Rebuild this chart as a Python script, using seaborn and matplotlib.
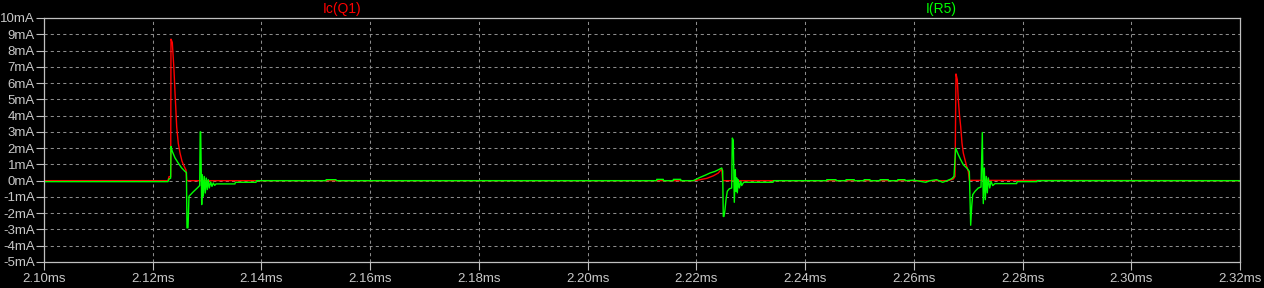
import matplotlib
matplotlib.use("Agg")
import numpy as np
import pandas as pd
import seaborn as sns
import matplotlib.pyplot as plt

# ---------------- data (time in ms, current in mA) ----------------
# Ic(Q1)
ic_t_ev1 = [2.1000, 2.1228, 2.1230, 2.1233, 2.12336, 2.1236, 2.12391, 2.1241, 2.12428,
            2.12441, 2.1247, 2.12502, 2.12538, 2.12575, 2.12612, 2.12625, 2.1263, 2.1315]
ic_v_ev1 = [0.0, 0.0, 0.25, 0.25, 8.7, 8.5, 6.8, 5.4, 4.2,
            3.3, 2.3, 1.7, 1.2, 0.9, 0.65, 0.0, 0.0, 0.0]
ic_t_ev2 = [2.21944, 2.22067, 2.2219, 2.22313, 2.22404, 2.22466, 2.22484]
ic_v_ev2 = [0.0, 0.06, 0.14, 0.3, 0.47, 0.72, 0.0]
ic_t_ev3 = [2.26629, 2.26726, 2.26758, 2.26776, 2.268, 2.26818, 2.26837, 2.26862,
            2.26886, 2.2691, 2.26941, 2.26973, 2.27002, 2.27021, 2.32]
ic_v_ev3 = [0.0, 0.1, 0.26, 6.56, 6.2, 5.0, 4.15, 3.33,
            2.31, 1.7, 1.29, 0.88, 0.57, 0.02, 0.0]

# I(R5)
ir_t_ev1 = [2.1000, 2.1228, 2.1230, 2.1233, 2.12336, 2.1236, 2.1241, 2.1247, 2.12533,
            2.12594, 2.1262, 2.1263, 2.12649, 2.12655, 2.12667, 2.12741, 2.1282, 2.12864,
            2.12873, 2.12882, 2.12901, 2.12912, 2.1293, 2.12948, 2.12967, 2.12985,
            2.13004, 2.13022, 2.13041, 2.13066, 2.1309, 2.13114, 2.1314, 2.13164,
            2.13513, 2.1352, 2.139, 2.1391, 2.15187, 2.1519, 2.15371, 2.1538]
ir_v_ev1 = [-0.06, -0.06, 0.1, 0.15, 2.1, 1.8, 1.4, 1.08, 0.78,
            0.57, 0.5, -2.9, -2.9, -2.2, -0.96, -0.7, -0.45, -0.3,
            3.0, 3.0, -1.47, 0.37, -0.96, 0.26, -0.76, 0.16,
            -0.55, 0.06, -0.45, -0.08, -0.35, -0.14, -0.29, -0.2,
            -0.2, -0.1, -0.1, 0.0, 0.0, 0.06, 0.06, 0.0]
ir_t_ev2 = [2.2127, 2.21271, 2.21392, 2.21393, 2.21576, 2.21577, 2.21712, 2.21713,
            2.21944, 2.22006, 2.22067, 2.22159, 2.22251, 2.22343, 2.22435, 2.22466,
            2.22484, 2.22495, 2.22508, 2.22527, 2.22545, 2.22569, 2.22606, 2.2265,
            2.22661, 2.22679, 2.22698, 2.22716, 2.22729, 2.22742, 2.22753, 2.22771,
            2.2279, 2.22816, 2.22834, 2.22863, 2.2287, 2.2341, 2.2342]
ir_v_ev2 = [0.0, 0.08, 0.08, 0.0, 0.0, 0.08, 0.08, 0.0,
            0.0, 0.1, 0.2, 0.33, 0.47, 0.57, 0.72, 0.78,
            0.6, -2.2, -2.2, -1.78, -1.17, -0.65, -0.5, -0.45,
            2.62, 2.5, -1.33, 0.67, -0.65, 0.17, -0.75, 0.06,
            -0.45, -0.04, -0.3, -0.14, -0.1, -0.1, 0.0]
ir_t_quiet = [2.24397, 2.24398, 2.24569, 2.2457, 2.24752, 2.24753, 2.24905, 2.24906,
              2.25084, 2.25085, 2.25194, 2.25195, 2.25378, 2.25379, 2.25531, 2.25532,
              2.25704, 2.25705, 2.25838, 2.25839, 2.26003, 2.26219, 2.26298, 2.2642,
              2.26531, 2.2661, 2.26697, 2.26739]
ir_v_quiet = [0.0, 0.06, 0.06, 0.0, 0.0, 0.06, 0.06, 0.0,
              0.0, 0.06, 0.06, 0.0, 0.0, 0.06, 0.06, 0.0,
              0.0, 0.06, 0.06, 0.0, 0.03, -0.1, 0.0, 0.06,
              -0.1, 0.0, 0.12, 0.26]
ir_t_ev3 = [2.2677, 2.26818, 2.26862, 2.2691, 2.26973, 2.27021, 2.27046, 2.27065,
            2.27083, 2.27125, 2.27186, 2.27236, 2.2726, 2.27278, 2.27297, 2.27315,
            2.27333, 2.27352, 2.2737, 2.27396, 2.2742, 2.27451, 2.27493, 2.27892,
            2.279, 2.28266, 2.2827, 2.32]
ir_v_ev3 = [2.0, 1.6, 1.29, 0.98, 0.78, 0.57, -2.74, -1.58,
            -0.86, -0.66, -0.45, -0.39, 2.96, -1.41, 0.78, -1.17,
            0.26, -0.75, 0.17, -0.45, -0.04, -0.3, -0.18, -0.18,
            -0.06, -0.06, 0.0, 0.0]

x_ticks = [2.10, 2.12, 2.14, 2.16, 2.18, 2.20, 2.22, 2.24, 2.26, 2.28, 2.30, 2.32]
y_ticks = [-5, -4, -3, -2, -1, 0, 1, 2, 3, 4, 5, 6, 7, 8, 9, 10]
series_names = ["Ic(Q1)", "I(R5)"]
series_colors = ["#ff0000", "#00ff00"]

# ---------------- plot ----------------
sns.set_theme(style="dark")
plt.rcParams['font.family'] = ['Liberation Sans', 'DejaVu Sans']

df_ic = pd.DataFrame({"t": ic_t_ev1 + ic_t_ev2 + ic_t_ev3,
                      "i": ic_v_ev1 + ic_v_ev2 + ic_v_ev3})
df_ir = pd.DataFrame({"t": ir_t_ev1 + ir_t_ev2 + ir_t_quiet + ir_t_ev3,
                      "i": ir_v_ev1 + ir_v_ev2 + ir_v_quiet + ir_v_ev3})

fig = plt.figure(figsize=(12.64, 2.88), dpi=100, facecolor="black")
ax = fig.add_axes([44 / 1264, 26 / 288, 1196 / 1264, 244 / 288])
ax.set_facecolor("black")

sns.lineplot(data=df_ic, x="t", y="i", ax=ax, color=series_colors[0], lw=1.0,
             estimator=None, sort=False)
sns.lineplot(data=df_ir, x="t", y="i", ax=ax, color=series_colors[1], lw=1.0,
             estimator=None, sort=False)

ax.set_xlim(x_ticks[0], x_ticks[-1])
ax.set_ylim(y_ticks[0], y_ticks[-1])
ax.set_xticks(x_ticks)
ax.set_xticklabels([f"{v:.2f}ms" for v in x_ticks])
ax.set_yticks(y_ticks)
ax.set_yticklabels([f"{v}mA" for v in y_ticks])
ax.set_xlabel("")
ax.set_ylabel("")

ax.set_axisbelow(True)
ax.grid(True, color="#8c8c8c", linestyle=(0, (3, 3)), linewidth=0.75)
ax.tick_params(axis="both", which="major", bottom=True, left=True, direction="out",
               length=5.8, width=0.8, color="#c0c0c0", labelcolor="#c8c8c8",
               labelsize=9.5)
ax.tick_params(axis="y", pad=0.8)
ax.tick_params(axis="x", pad=2.2)
for s in ax.spines.values():
    s.set_visible(True)
    s.set_color("#c0c0c0")
    s.set_linewidth(0.9)

fig.text(342 / 1264, 1 - 9 / 288, series_names[0], color=series_colors[0],
         ha="center", va="center", fontsize=10)
fig.text(941 / 1264, 1 - 9 / 288, series_names[1], color=series_colors[1],
         ha="center", va="center", fontsize=10)

fig.savefig("out.png", dpi=100, facecolor="black")
